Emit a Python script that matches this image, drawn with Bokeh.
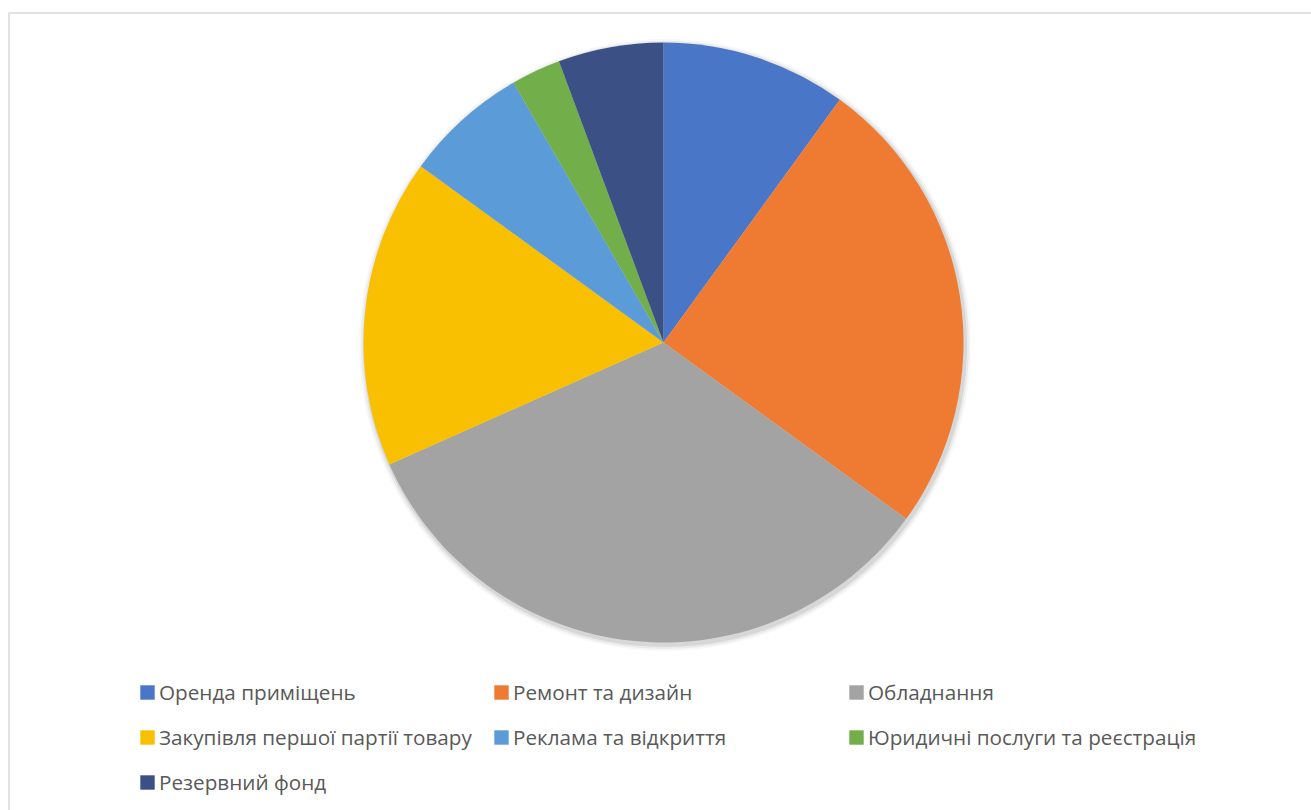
import numpy as np
from bokeh.plotting import figure
from bokeh.models import Range1d, Legend, LegendItem, ColumnDataSource
from bokeh.embed import file_html
from bokeh.resources import INLINE

categories = [
    "Оренда приміщень",
    "Ремонт та дизайн",
    "Обладнання",
    "Закупівля першої партії товару",
    "Реклама та відкриття",
    "Юридичні послуги та реєстрація",
    "Резервний фонд",
]
values = [30000, 75000, 100000, 50000, 20000, 8000, 17000]
colors = ["#4a76c8", "#ef7b32", "#a3a3a3", "#f8c000", "#5a9bd8", "#72ae4a", "#3b5185"]

W, H = 1311, 810
CX, CY, R = 663, H - 342, 300

vals = np.array(values, dtype=float)
frac = vals / vals.sum()
cum = np.concatenate([[0], np.cumsum(frac)])
start = np.pi / 2 - 2 * np.pi * cum[:-1]
end = np.pi / 2 - 2 * np.pi * cum[1:]

src = ColumnDataSource(dict(cat=categories, val=values, color=colors,
                            start=start, end=end,
                            x=[CX] * len(values), y=[CY] * len(values)))

p = figure(width=W, height=H, output_backend="svg", toolbar_location=None,
           x_range=Range1d(0, W), y_range=Range1d(0, H),
           min_border=0, x_axis_location=None, y_axis_location=None)
p.grid.visible = False
p.outline_line_color = None
p.background_fill_color = "white"
p.border_fill_color = "white"

# chart border
p.quad(left=8.5, right=W + 50, top=H - 12.5, bottom=-50, fill_alpha=0,
       line_color="#d9d9d9", line_width=1.5)

# soft shadow
for dr, a in [(6, 0.03), (4, 0.05), (2, 0.08)]:
    p.circle(x=CX + 1.5, y=CY - 2.5, radius=R + dr, fill_color="black",
             fill_alpha=a, line_color=None)

r = p.wedge(x="x", y="y", radius=R, start_angle="start", end_angle="end",
            direction="clock", fill_color="color", line_color=None, source=src)

# invisible squares used only as legend swatches
nan = [np.nan] * len(values)
sw = p.quad(left=nan, right=nan, top=nan, bottom=nan,
            fill_color=colors, line_color=None)

# legend: three columns
col_x = [138, 492, 847]
row_cy = [696, 741, 786]
for i, cat in enumerate(categories):
    cx = col_x[i % 3]
    cy = row_cy[i // 3]
    leg = Legend(items=[LegendItem(label=cat, renderers=[sw], index=i)],
                 location=(cx, H - cy - 10),
                 glyph_width=18, glyph_height=18, label_height=20,
                 label_standoff=3, padding=0, margin=0, spacing=0,
                 label_text_font="Open Sans", label_text_font_size="20.7px",
                 label_text_color="#595959",
                 border_line_alpha=0, background_fill_alpha=0)
    p.add_layout(leg, "center")

open("out.html", "w").write(file_html(p, INLINE))
